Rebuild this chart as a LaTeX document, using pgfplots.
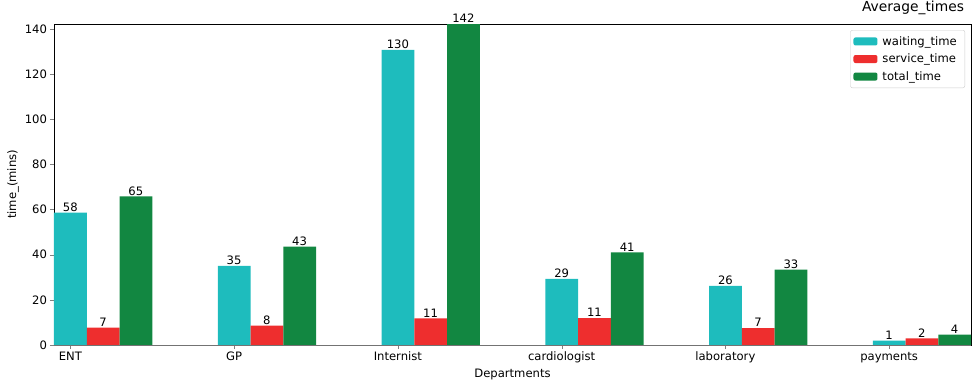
\documentclass[border=0pt]{standalone}
\usepackage{pgfplots}
\usepackage{pgfplotstable}
\usepackage{fontspec}
\setmainfont{DejaVu Sans}
\pgfplotsset{compat=1.18}
\definecolor{cwait}{HTML}{1EBCBD}
\definecolor{cserv}{HTML}{EE2E2E}
\definecolor{ctot}{HTML}{128741}
\pgfplotstableread{
x y lab
0 58.6 58
1 35.1 35
2 130.7 130
3 29.3 29
4 26.2 26
5 1.9 1
}\waiting
\pgfplotstableread{
x y lab
0.2 7.7 7
1.2 8.6 8
2.2 11.8 11
3.2 11.9 11
4.2 7.5 7
5.2 2.96 2
}\service
\pgfplotstableread{
x y lab
0.4 65.8 65
1.4 43.6 43
2.4 142.2 142
3.4 41.0 41
4.4 33.4 33
5.4 4.6 4
}\total
\newcommand{\fs}{\fontsize{11.6pt}{13pt}\selectfont}
\begin{document}
\fs
\begin{tikzpicture}
\useasboundingbox (0,0) rectangle (974pt,384pt);
\begin{axis}[
  at={(54pt,39pt)}, anchor=south west,
  scale only axis, width=917pt, height=321pt,
  xmin=-0.1, xmax=5.5, ymin=0, ymax=142.2,
  xtick={0,1,2,3,4,5},
  xticklabels={ENT,GP,Internist,cardiologist,laboratory,payments},
  ytick={0,20,...,140},
  tick align=outside, tick pos=left,
  major tick length=4pt,
  /pgf/number format/assume math mode=true,
  ticklabel style={font=\fs},
  yticklabel style={xshift=1pt},
  xticklabel style={yshift=1pt},
  xlabel={Departments}, ylabel={time\_(mins)},
  label style={font=\fs},
  xlabel style={yshift=2pt},
  ylabel style={yshift=-2pt},
  title={Average\_times},
  title style={at={(1,1)}, anchor=south east, font=\fontsize{13.8pt}{15pt}\selectfont, yshift=-1pt, xshift=-3pt},
  ybar, bar width=0.2,
  point meta=explicit symbolic,
  nodes near coords={\pgfplotspointmeta},
  nodes near coords style={font=\fs, anchor=south, inner sep=1pt, yshift=0pt},
  legend style={at={(1,1)}, anchor=north east, xshift=-6pt, yshift=-6pt,
    draw=black!20, rounded corners=2pt, font=\fs,
    row sep=3pt, inner xsep=3pt, inner ysep=4pt,
    nodes={inner xsep=5pt}},
  legend cell align=left,
  legend image code/.code={\fill[#1] (0pt,-4pt) rectangle (24pt,4pt);},
  clip=false,
]
\addplot[fill=cwait, draw=none, bar shift=0pt] table[x=x, y=y, meta=lab] {\waiting};
\addlegendentry{waiting\_time}
\addplot[fill=cserv, draw=none, bar shift=0pt] table[x=x, y=y, meta=lab] {\service};
\addlegendentry{service\_time}
\addplot[fill=ctot, draw=none, bar shift=0pt] table[x=x, y=y, meta=lab] {\total};
\addlegendentry{total\_time}
\draw[gray!90!black, line width=0.8pt] (rel axis cs:0,0) -- (rel axis cs:1,0);
\end{axis}
\end{tikzpicture}
\end{document}
